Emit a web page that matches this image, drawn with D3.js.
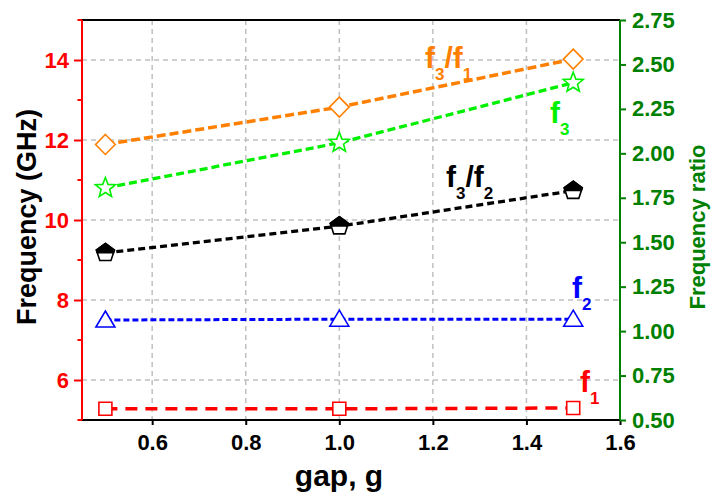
<!DOCTYPE html>
<html>
<head>
<meta charset="utf-8">
<script src="https://cdn.jsdelivr.net/npm/d3@7"></script>
<style>
  html, body { margin: 0; padding: 0; background: #fff; }
  svg { display: block; font-family: "Liberation Sans", Arial, sans-serif; font-weight: bold; }
</style>
</head>
<body>
<svg id="chart" width="712" height="497"></svg>
<script>
// Gap values (x) and measured quantities
const gap = [0.5, 1.0, 1.5];
const f1 = [5.28, 5.28, 5.30];        // GHz
const f2 = [7.50, 7.52, 7.52];        // GHz
const f3 = [10.80, 11.93, 13.43];     // GHz
const f3f1 = [2.05, 2.26, 2.53];      // ratio
const f3f2 = [1.44, 1.59, 1.79];      // ratio

const xTicks = [0.6, 0.8, 1.0, 1.2, 1.4, 1.6];
const yLeftTicks = [6, 8, 10, 12, 14];
const yLeftMinor = [5, 7, 9, 11, 13, 15];
const yRightTicks = [0.5, 0.75, 1.0, 1.25, 1.5, 1.75, 2.0, 2.25, 2.5, 2.75];

const svg = d3.select("#chart");
const L = 82, R = 620, T = 20, B = 420;

const x = d3.scaleLinear().domain([0.45, 1.6]).range([L, R]);
const yL = d3.scaleLinear().domain([5, 15]).range([B, T]);
const yR = d3.scaleLinear().domain([0.5, 2.75]).range([B, T]);

// grid
const grid = svg.append("g").attr("stroke", "#c0c0c0").attr("stroke-width", 1.5)
  .attr("stroke-dasharray", "5,4").attr("fill", "none");
xTicks.filter(v => v < 1.6).forEach(v => {
  grid.append("line").attr("x1", x(v)).attr("x2", x(v)).attr("y1", T).attr("y2", B);
});
yLeftTicks.forEach(v => {
  grid.append("line").attr("x1", L).attr("x2", R).attr("y1", yL(v)).attr("y2", yL(v));
});

// series definitions
const series = [
  { vals: f1, y: yL, color: "#ff0000", dash: "12,8", width: 3.5, marker: "square" },
  { vals: f2, y: yL, color: "#0000ff", dash: "6,3", width: 3, marker: "triangle" },
  { vals: f3, y: yL, color: "#00f000", dash: "8,4", width: 3.3, marker: "star" },
  { vals: f3f1, y: yR, color: "#ff8000", dash: "9,4", width: 3.5, marker: "diamond" },
  { vals: f3f2, y: yR, color: "#000000", dash: "7,4", width: 3.3, marker: "pentagon" }
];

const lineGen = (ys) => d3.line().x(d => x(d[0])).y(d => ys(d[1]));

series.forEach(s => {
  const pts = gap.map((g, i) => [g, s.vals[i]]);
  svg.append("path").datum(pts).attr("d", lineGen(s.y))
    .attr("fill", "none").attr("stroke", s.color).attr("stroke-width", s.width)
    .attr("stroke-dasharray", s.dash);
});

// marker shapes
function polyPath(pts) { return "M" + pts.map(p => p.join(",")).join("L") + "Z"; }
function starPath(ro, ri) {
  const pts = [];
  for (let k = 0; k < 10; k++) {
    const r = k % 2 === 0 ? ro : ri;
    const a = -Math.PI / 2 + k * Math.PI / 5;
    pts.push([r * Math.cos(a), r * Math.sin(a)]);
  }
  return polyPath(pts);
}
function pentPath(r) {
  const pts = [];
  for (let k = 0; k < 5; k++) {
    const a = -Math.PI / 2 + k * 2 * Math.PI / 5;
    pts.push([r * Math.cos(a), r * Math.sin(a)]);
  }
  return polyPath(pts);
}
const shapes = {
  square: "M-6.5,-6.5H6.5V6.5H-6.5Z",
  triangle: "M0,-9L9.5,7H-9.5Z",
  diamond: "M0,-10L9.8,0L0,10L-9.8,0Z",
  star: starPath(10.5, 4.5),
  pentagon: pentPath(9.5)
};

const defs = svg.append("defs");
defs.append("clipPath").attr("id", "topHalf")
  .append("rect").attr("x", -15).attr("y", -15).attr("width", 30).attr("height", 15.5);

series.forEach(s => {
  gap.forEach((g, i) => {
    const m = svg.append("g").attr("transform", `translate(${x(g)},${s.y(s.vals[i])})`);
    m.append("path").attr("d", shapes[s.marker]).attr("fill", "#fff")
      .attr("stroke", s.color).attr("stroke-width", 1.6).attr("stroke-linejoin", "miter");
    if (s.marker === "pentagon") {
      m.append("path").attr("d", shapes.pentagon).attr("fill", "#000")
        .attr("stroke", "#000").attr("stroke-width", 1.6).attr("clip-path", "url(#topHalf)");
    }
  });
});

// frame
svg.append("line").attr("x1", L).attr("x2", R).attr("y1", T).attr("y2", T)
  .attr("stroke", "#000").attr("stroke-width", 2);

const tickFont = sel => sel.style("font-size", "22px")
  .style("font-family", "'Liberation Sans', Arial, sans-serif").style("font-weight", "bold");

// bottom axis
const xAxis = svg.append("g").attr("transform", `translate(0,${B})`)
  .call(d3.axisBottom(x).tickValues(xTicks).tickFormat(d3.format(".1f")).tickSize(5).tickPadding(9));
xAxis.select(".domain").attr("stroke", "#000").attr("stroke-width", 2).attr("d", `M${L},0H${R}`);
xAxis.selectAll(".tick line").attr("stroke", "#000").attr("stroke-width", 2);
xAxis.selectAll(".tick text").attr("fill", "#000").call(tickFont);

// left axis
const yAxisL = svg.append("g").attr("transform", `translate(${L},0)`)
  .call(d3.axisLeft(yL).tickValues(yLeftTicks).tickFormat(d3.format("d")).tickSize(8).tickPadding(5));
yAxisL.select(".domain").attr("stroke", "#ff0000").attr("stroke-width", 2).attr("d", `M0,${T}V${B}`);
yAxisL.selectAll(".tick line").attr("stroke", "#ff0000").attr("stroke-width", 2);
yAxisL.selectAll(".tick text").attr("fill", "#ff0000").call(tickFont);
yLeftMinor.forEach(v => {
  svg.append("line").attr("x1", L - 4.5).attr("x2", L).attr("y1", yL(v)).attr("y2", yL(v))
    .attr("stroke", "#ff0000").attr("stroke-width", 2);
});

// right axis
const yAxisR = svg.append("g").attr("transform", `translate(${R},0)`)
  .call(d3.axisRight(yR).tickValues(yRightTicks).tickFormat(d3.format(".2f")).tickSize(6).tickPadding(6));
yAxisR.select(".domain").attr("stroke", "#008000").attr("stroke-width", 2).attr("d", `M0,${T}V${B}`);
yAxisR.selectAll(".tick line").attr("stroke", "#008000").attr("stroke-width", 2);
yAxisR.selectAll(".tick text").attr("fill", "#008000").call(tickFont);

// axis titles
svg.append("text").attr("transform", "translate(36,217) rotate(-90)")
  .attr("text-anchor", "middle").attr("fill", "#000").style("font-size", "27px")
  .text("Frequency (GHz)");
svg.append("text").attr("transform", "translate(705,227) rotate(-90)")
  .attr("text-anchor", "middle").attr("fill", "#008000").style("font-size", "22px")
  .text("Frequency ratio");
svg.append("text").attr("x", 339).attr("y", 486)
  .attr("text-anchor", "middle").attr("fill", "#000").style("font-size", "30px")
  .text("gap, g");

// series labels: f with subscripts
function subLabel(px, py, color, parts) {
  const t = svg.append("text").attr("x", px).attr("y", py).attr("fill", color);
  let down = false;
  parts.forEach(p => {
    const sub = p.sub === true;
    const ts = t.append("tspan").text(p.t).style("font-size", sub ? "17px" : "30px");
    if (sub && !down) { ts.attr("dy", 12); down = true; }
    else if (!sub && down) { ts.attr("dy", -12); down = false; }
  });
}
subLabel(425, 68, "#ff8000", [{ t: "f" }, { t: "3", sub: true }, { t: "/" }, { t: "f" }, { t: "1", sub: true }]);
subLabel(550, 123, "#00f000", [{ t: "f" }, { t: "3", sub: true }]);
subLabel(446, 187, "#000000", [{ t: "f" }, { t: "3", sub: true }, { t: "/" }, { t: "f" }, { t: "2", sub: true }]);
subLabel(572, 298, "#0000ff", [{ t: "f" }, { t: "2", sub: true }]);
subLabel(580, 392, "#ff0000", [{ t: "f" }, { t: "1", sub: true }]);
</script>
</body>
</html>
